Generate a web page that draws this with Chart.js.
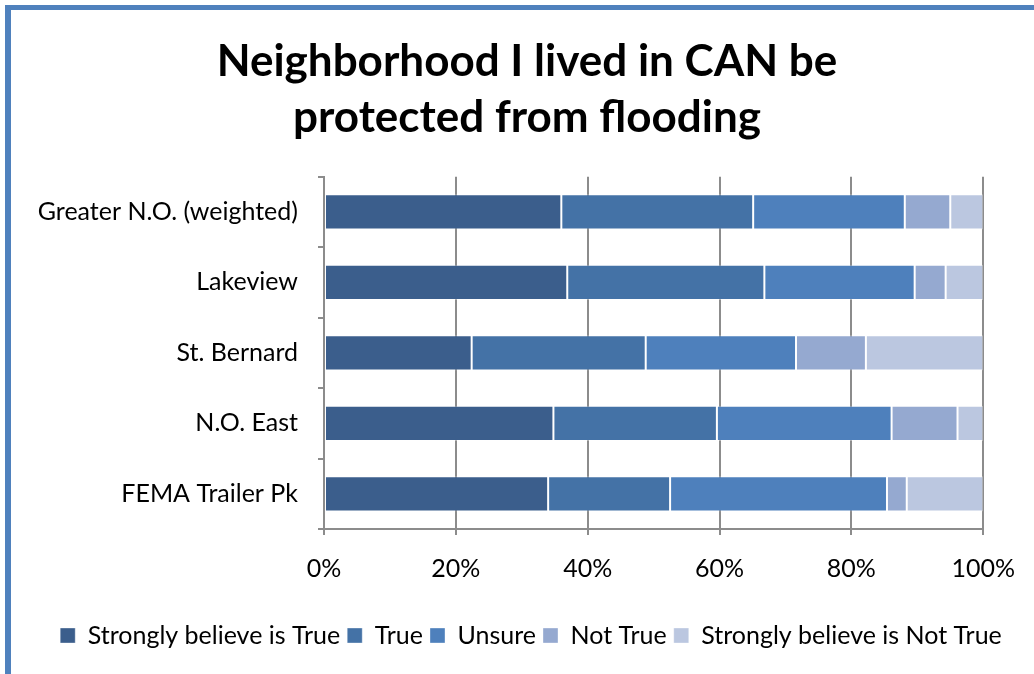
<!DOCTYPE html>
<html>
<head>
<meta charset="utf-8">
<script src="https://cdn.jsdelivr.net/npm/chart.js@4.4.1/dist/chart.umd.min.js"></script>
<style>
  html, body { margin: 0; padding: 0; background: #fff; }
  #wrap { position: relative; width: 1034px; height: 674px; overflow: hidden; }
  #frame {
    position: absolute; left: 5px; top: 5px; width: 1100px; height: 700px;
    border-left: 6px solid #4F81BD; border-top: 5px solid #4F81BD;
    pointer-events: none;
  }
  canvas { position: absolute; left: 0; top: 0; }
</style>
</head>
<body>
<div id="wrap">
  <canvas id="chart" width="1034" height="674"></canvas>
  <div id="frame"></div>
</div>
<script>
// Neighborhoods, top to bottom
const neighborhoods = ['Greater N.O. (weighted)', 'Lakeview', 'St. Bernard', 'N.O. East', 'FEMA Trailer Pk'];

// Percent of answers per neighborhood
const stronglyTrue    = [36.0, 36.9, 22.4, 34.8, 34.0];
const trueVals        = [29.1, 29.9, 26.4, 24.8, 18.5];
const unsure          = [23.0, 22.8, 22.8, 26.5, 32.9];
const notTrue         = [6.9, 4.7, 10.6, 10.0, 3.0];
const stronglyNotTrue = [5.0, 5.7, 17.8, 3.9, 11.6];

const seriesNames = ['Strongly believe is True', 'True', 'Unsure', 'Not True', 'Strongly believe is Not True'];
const seriesColors = ['#3B5E8C', '#4472A6', '#4E80BC', '#95A9D0', '#BBC7E0'];
const seriesData = [stronglyTrue, trueVals, unsure, notTrue, stronglyNotTrue];

const FONT = 'Lato, "Open Sans", sans-serif';

// title and legend sit a bit right of the canvas centre in the original
const shiftBlocks = {
  id: 'shiftBlocks',
  afterLayout(chart) {
    chart.titleBlock.left = 20;
    const legend = chart.legend;
    if (!legend._shifted) {
      const orig = legend.draw;
      legend.draw = function (area) {
        const c = this.ctx;
        c.save();
        c.translate(14, 0);
        orig.call(this, area);
        c.restore();
      };
      legend._shifted = true;
    }
  }
};

const ctx = document.getElementById('chart').getContext('2d');

new Chart(ctx, {
  type: 'bar',
  data: {
    labels: neighborhoods,
    datasets: seriesNames.map((name, i) => ({
      label: name,
      data: seriesData[i],
      backgroundColor: seriesColors[i],
      borderColor: 'rgba(255,255,255,0.35)',
      borderWidth: 1,
      borderSkipped: false,
      categoryPercentage: 1.0,
      barPercentage: 0.5
    }))
  },
  options: {
    indexAxis: 'y',
    responsive: false,
    animation: false,
    layout: {
      padding: { left: 0, right: 0, top: 0, bottom: 16 }
    },
    scales: {
      x: {
        stacked: true,
        min: 0,
        max: 100,
        ticks: {
          stepSize: 20,
          color: '#000',
          padding: 19,
          font: { family: FONT, size: 25 },
          callback: (v) => v + '%'
        },
        grid: {
          color: '#8C8C8C',
          lineWidth: 2,
          tickLength: 6
        },
        border: { color: '#8C8C8C', width: 2 },
        afterFit: (scale) => { scale.height = 87; }
      },
      y: {
        stacked: true,
        ticks: {
          color: '#000',
          padding: 20,
          font: { family: FONT, size: 25 }
        },
        grid: {
          drawOnChartArea: false,
          color: '#8C8C8C',
          lineWidth: 2,
          tickLength: 6
        },
        border: { color: '#8C8C8C', width: 2 },
        afterFit: (scale) => { scale.width = 324; }
      },
      // empty right axis, only reserves the margin right of the plot
      yRight: {
        type: 'category',
        position: 'right',
        grid: { display: false },
        ticks: { display: false },
        border: { display: false },
        afterFit: (scale) => { scale.width = 40; }
      }
    },
    plugins: {
      title: {
        display: true,
        text: ['Neighborhood I lived in CAN be', 'protected from flooding'],
        color: '#000',
        font: { family: FONT, size: 44, weight: 'bold', lineHeight: 1.27 },
        padding: { top: 34, bottom: 31 }
      },
      legend: {
        position: 'bottom',
        labels: {
          color: '#000',
          boxWidth: 15,
          boxHeight: 15,
          padding: 7,
          font: { family: FONT, size: 25 }
        }
      },
      tooltip: { enabled: false }
    }
  },
  plugins: [shiftBlocks]
});
</script>
</body>
</html>
